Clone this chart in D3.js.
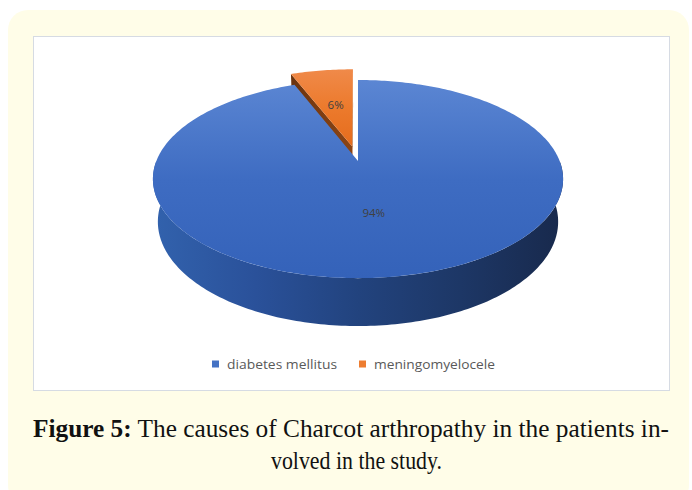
<!DOCTYPE html>
<html><head><meta charset="utf-8">
<script src="https://cdn.jsdelivr.net/npm/d3@7"></script>
<style>body{margin:0;background:#fff}</style></head>
<body>
<svg id="c" width="692" height="490"></svg>
<script>
// ---- data ----
const categories = ["diabetes mellitus", "meningomyelocele"];
const values = [94, 6];
const valueLabels = ["94%", "6%"];
const captionBold = "Figure 5:";
const captionLine1 = " The causes of Charcot arthropathy in the patients in-";
const captionLine2 = "volved in the study.";

// ---- styles ----
const topColors = [["#5b86d3", "#3e6cc2", "#3462b9"], ["#f08b4c", "#ec7a2c", "#e46b1c"]];
const legendColors = ["#4472C4", "#ED7D31"];
const explode = [0, 0.162];

const svg = d3.select("#c");
const defs = svg.append("defs");

// card background
svg.append("rect").attr("x", 8).attr("y", 10).attr("width", 681).attr("height", 495)
  .attr("rx", 20).attr("fill", "#fffde8");
svg.append("rect").attr("x", 33.5).attr("y", 36.5).attr("width", 636).attr("height", 354)
  .attr("fill", "#fff").attr("stroke", "#d6dbe3").attr("stroke-width", 1);

// ---- 3D projection ----
const cx = 358, cy = 161, f = 974, D = 4.83, H = 0.243;
const sinP = 0.475, cosP = Math.sqrt(1 - sinP * sinP);
function proj(x, y, z) {
  const depth = D + z * cosP - y * sinP;
  const up = z * sinP + y * cosP;
  return [cx + f * x / depth, cy - f * up / depth];
}
const rad = d3.scaleLinear().domain([0, 1]).range([0, 1]);

const pie = d3.pie().sort(null).value(d => d)(values);
const line = d3.line();

function arcPts(ox, oz, a0, a1, y) {
  const pts = [];
  const n = Math.max(2, Math.ceil(Math.abs(a1 - a0) / (Math.PI / 180)));
  for (let k = 0; k <= n; k++) {
    const t = a0 + (a1 - a0) * k / n;
    pts.push(proj(ox + rad(1) * Math.sin(t), y, oz + rad(1) * Math.cos(t)));
  }
  return pts;
}

function grad(id, x1, y1, x2, y2, stops) {
  const g = defs.append("linearGradient").attr("id", id).attr("gradientUnits", "userSpaceOnUse")
    .attr("x1", x1).attr("y1", y1).attr("x2", x2).attr("y2", y2);
  stops.forEach((c, i) => g.append("stop").attr("offset", i / (stops.length - 1)).attr("stop-color", c));
}
grad("top0", 0, 80, 0, 280, topColors[0]);
grad("top1", 0, 66, 0, 150, topColors[1]);
grad("side0", 153, 0, 563, 0, ["#3262ad", "#2a519a", "#22437e", "#1d3766", "#18294c"]);
grad("face1", 290, 0, 356, 0, ["#6a330e", "#7d3d12", "#8d4616"]);

const g = svg.append("g");

// slices drawn back (orange) to front (blue)
const order = [1, 0];
order.forEach(i => {
  const s = pie[i];
  const mid = (s.startAngle + s.endAngle) / 2;
  const ox = explode[i] * Math.sin(mid), oz = explode[i] * Math.cos(mid);
  const a0 = s.startAngle, a1 = s.endAngle;
  if (i === 1) {
    const p = [proj(ox, 0, oz), proj(ox + Math.sin(a0), 0, oz + Math.cos(a0)),
               proj(ox + Math.sin(a0), -H, oz + Math.cos(a0)), proj(ox, -H, oz)];
    g.append("path").attr("d", line(p) + "Z").attr("fill", "url(#face1)");
    const q = [proj(ox, 0, oz), proj(ox + Math.sin(a1), 0, oz + Math.cos(a1)),
               proj(ox + Math.sin(a1), -H, oz + Math.cos(a1)), proj(ox, -H, oz)];
    g.append("path").attr("d", line(q) + "Z").attr("fill", "#a8541b");
  } else {
    const b0 = Math.max(a0, Math.PI / 2), b1 = Math.min(a1, 3 * Math.PI / 2);
    const top = arcPts(ox, oz, b0, b1, 0);
    const bot = arcPts(ox, oz, b1, b0, -H);
    g.append("path").attr("d", line(top.concat(bot)) + "Z").attr("fill", "url(#side0)");
  }
  const pts = [proj(ox, 0, oz)].concat(arcPts(ox, oz, a0, a1, 0));
  g.append("path").attr("d", line(pts) + "Z").attr("fill", `url(#top${i})`);
});

// value labels
pie.forEach((s, i) => {
  const mid = (s.startAngle + s.endAngle) / 2;
  const ox = explode[i] * Math.sin(mid), oz = explode[i] * Math.cos(mid);
  const p = proj(ox + 0.5 * Math.sin(mid), 0, oz + 0.5 * Math.cos(mid));
  svg.append("text").attr("x", p[0] - (i === 0 ? 5 : 0)).attr("y", p[1] + 4)
    .attr("text-anchor", "middle").attr("font-family", "'Open Sans', sans-serif")
    .attr("font-size", 11.5).attr("fill", "#404040").text(valueLabels[i]);
});

// legend
const legendX = [212, 359];
const legendW = [110, 121];
categories.forEach((c, i) => {
  svg.append("rect").attr("x", legendX[i]).attr("y", 360.5).attr("width", 7).attr("height", 7)
    .attr("fill", legendColors[i]);
  svg.append("text").attr("x", legendX[i] + 15).attr("y", 368.5)
    .attr("font-family", "'Open Sans', sans-serif").attr("font-size", 12.5).attr("fill", "#595959")
    .attr("textLength", legendW[i]).attr("lengthAdjust", "spacingAndGlyphs").text(c);
});

// caption
const t1 = svg.append("text").attr("x", 33).attr("y", 437)
  .attr("font-family", "'Liberation Serif', serif").attr("font-size", 25).attr("fill", "#111")
  .attr("textLength", 636).attr("lengthAdjust", "spacingAndGlyphs");
t1.append("tspan").attr("font-weight", "bold").text(captionBold);
t1.append("tspan").text(captionLine1);
svg.append("text").attr("x", 271).attr("y", 469)
  .attr("font-family", "'Liberation Serif', serif").attr("font-size", 25).attr("fill", "#111")
  .attr("textLength", 171).attr("lengthAdjust", "spacingAndGlyphs").text(captionLine2);
</script>
</body></html>
